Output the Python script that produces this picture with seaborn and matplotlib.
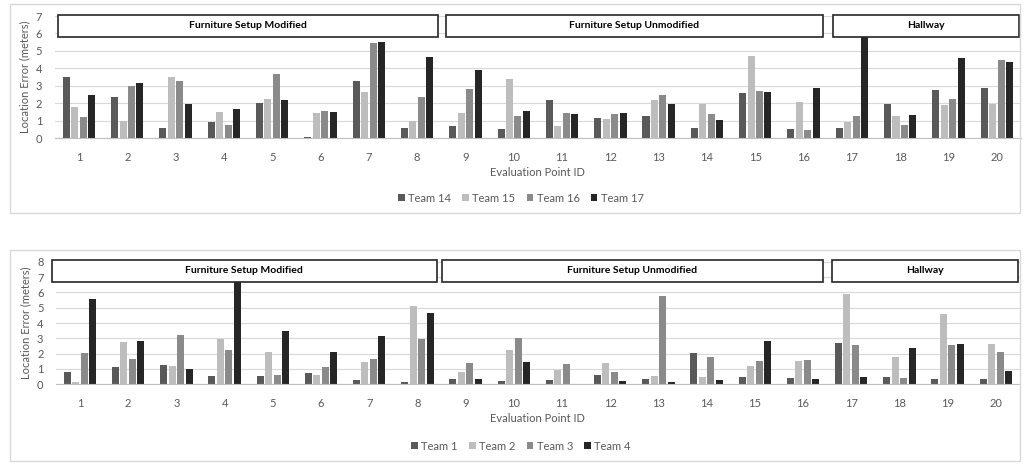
import numpy as np
import pandas as pd
import matplotlib
matplotlib.use("Agg")
import matplotlib.pyplot as plt
from matplotlib.patches import Rectangle
import seaborn as sns

# dati
points = list(range(1, 21))

teams_top = ["Team 14", "Team 15", "Team 16", "Team 17"]
team14 = [3.50, 2.35, 0.61, 0.92, 2.04, 0.08, 3.28, 0.61, 0.69, 0.55,
          2.18, 1.16, 1.26, 0.61, 2.60, 0.55, 0.61, 1.97, 2.77, 2.88]
team15 = [1.81, 1.01, 3.53, 1.53, 2.27, 1.43, 2.65, 0.97, 1.43, 3.40,
          0.71, 1.13, 2.18, 1.97, 4.73, 2.08, 0.95, 1.30, 1.89, 1.98]
team16 = [1.24, 3.00, 3.28, 0.78, 3.68, 1.56, 5.46, 2.37, 2.82, 1.26,
          1.43, 1.37, 2.48, 1.39, 2.73, 0.46, 1.30, 0.74, 2.27, 4.47]
team17 = [2.46, 3.19, 1.97, 1.68, 2.21, 1.51, 5.50, 4.66, 3.89, 1.55,
          1.37, 1.43, 1.95, 1.03, 2.63, 2.90, 6.30, 1.35, 4.60, 4.37]

teams_bottom = ["Team 1", "Team 2", "Team 3", "Team 4"]
team1 = [0.83, 1.15, 1.28, 0.54, 0.54, 0.76, 0.28, 0.15, 0.35, 0.20,
         0.26, 0.63, 0.33, 2.07, 0.46, 0.41, 2.72, 0.48, 0.35, 0.33]
team2 = [0.17, 2.74, 1.20, 2.93, 2.11, 0.61, 1.43, 5.11, 0.83, 2.24,
         0.91, 1.39, 0.54, 0.48, 1.17, 1.52, 5.91, 1.80, 4.59, 2.63]
team3 = [2.07, 1.65, 3.24, 2.24, 0.61, 1.13, 1.67, 2.93, 1.41, 3.00,
         1.33, 0.83, 5.74, 1.78, 1.52, 1.59, 2.54, 0.43, 2.59, 2.11]
team4 = [5.57, 2.80, 1.02, 7.00, 3.46, 2.09, 3.17, 4.63, 0.33, 1.43,
         0.04, 0.22, 0.13, 0.26, 2.83, 0.37, 0.48, 2.37, 2.65, 0.89]

sections = ["Furniture Setup Modified", "Furniture Setup Unmodified", "Hallway"]

colori = ["#595959", "#bdbdbd", "#8a8a8a", "#262626"]

plt.rcParams['font.family'] = ['Lato', 'DejaVu Sans']

W, H = 1033, 468
fig = plt.figure(figsize=(W / 100, H / 100), dpi=100)


def long_df(teams, series):
    rows = []
    for t, vals in zip(teams, series):
        for p, v in zip(points, vals):
            rows.append({"point": p, "team": t, "error": v})
    return pd.DataFrame(rows)


def pannello(rect, teams, series, ymax, frame, legend_y, box_spans, box_y):
    # cornice grigia del grafico
    x0, y0, x1, y1 = frame
    fig.add_artist(Rectangle((x0 / W, 1 - y1 / H), (x1 - x0) / W, (y1 - y0) / H,
                             transform=fig.transFigure, fill=False,
                             edgecolor="#d9d9d9", lw=1))
    l, t, r, b = rect
    ax = fig.add_axes([l / W, 1 - b / H, (r - l) / W, (b - t) / H])
    df = long_df(teams, series)
    sns.barplot(data=df, x="point", y="error", hue="team", hue_order=teams,
                palette=colori, width=0.7, gap=0.17, saturation=1,
                linewidth=0, ax=ax)
    ax.set_ylim(0, ymax)
    ax.set_xlim(-0.5, 19.5)
    ax.set_yticks(range(ymax + 1))
    ax.grid(axis="y", color="#d9d9d9", lw=0.8)
    ax.set_axisbelow(True)
    for s in ["top", "right", "left"]:
        ax.spines[s].set_visible(False)
    ax.spines["bottom"].set_color("#bfbfbf")
    ax.tick_params(length=0, labelsize=8, labelcolor="#595959")
    ax.tick_params(axis="x", pad=10)
    ax.tick_params(axis="y", pad=9)
    ax.set_xlabel("Evaluation Point ID", fontsize=8, color="#595959", labelpad=3)
    ax.set_ylabel("Location Error (meters)", fontsize=8, color="#595959", labelpad=4)

    # riquadri delle sezioni
    for (a, bb), nome in zip(box_spans, sections):
        ax.add_patch(Rectangle((a, box_y[0]), bb - a, box_y[1] - box_y[0],
                               facecolor="white", edgecolor="#262626", lw=1.2,
                               zorder=5, clip_on=False))
        ax.text((a + bb) / 2, (box_y[0] + box_y[1]) / 2, nome, ha="center",
                va="center", fontsize=7.5, fontweight="bold", zorder=6)

    handles, labels = ax.get_legend_handles_labels()
    ax.get_legend().remove()
    fig.legend(handles, labels, loc="center", bbox_to_anchor=(521 / W, 1 - legend_y / H),
               ncol=4, frameon=False, fontsize=8, handlelength=0.6, handleheight=0.6,
               handletextpad=0.3, columnspacing=1.0, labelcolor="#595959")
    return ax


pannello((54.8, 16.0, 1021.0, 138.3), teams_top, [team14, team15, team16, team17], 7,
         (10, 4, 1020, 213), 198,
         [(-0.43, 7.43), (7.6, 15.4), (15.6, 19.45)], (5.82, 7.05))

pannello((55.9, 261.7, 1019.9, 384.3), teams_bottom, [team1, team2, team3, team4], 8,
         (10, 250, 1020, 461), 446,
         [(-0.59, 7.4), (7.5, 15.42), (15.6, 19.47)], (6.69, 8.13))

fig.savefig("out.png", dpi=100)
